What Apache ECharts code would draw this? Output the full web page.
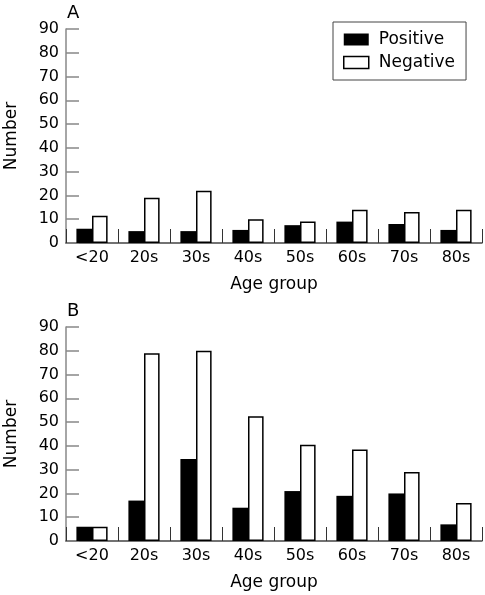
<!DOCTYPE html>
<html>
<head>
<meta charset="utf-8">
<script src="https://cdn.jsdelivr.net/npm/echarts@6/dist/echarts.min.js"></script>
<style>html,body{margin:0;padding:0;background:#fff}#c{width:485px;height:595px}</style>
</head>
<body>
<div id="c"></div>
<script>
var categories = ['<20', '20s', '30s', '40s', '50s', '60s', '70s', '80s'];
var positiveA = [6, 5, 5, 5.5, 7.5, 9, 8, 5.5];
var negativeA = [11.5, 19, 22, 10, 9, 14, 13, 14];
var positiveB = [6, 17, 34.5, 14, 21, 19, 20, 7];
var negativeB = [6, 79, 80, 52.5, 40.5, 38.5, 29, 16];
var yTicks = [0, 10, 20, 30, 40, 50, 60, 70, 80, 90];

var FONT = 'DejaVu Sans';
var chart = echarts.init(document.getElementById('c'));

function xAx(gi) {
  return {
    type: 'category', gridIndex: gi, data: categories, boundaryGap: true,
    name: 'Age group', nameLocation: 'middle', nameGap: 33,
    nameTextStyle: { fontFamily: FONT, fontSize: 17, color: '#000' },
    axisLine: { show: true, lineStyle: { color: '#444', width: 1.5 } },
    axisTick: { show: true, inside: true, alignWithLabel: false, interval: 0, length: 14, lineStyle: { color: '#333', width: 1 } },
    axisLabel: { fontFamily: FONT, fontSize: 16, color: '#000', margin: 7, interval: 0 }
  };
}
function yAx(gi) {
  return {
    type: 'value', gridIndex: gi, min: yTicks[0], max: yTicks[yTicks.length - 1], interval: 10,
    name: 'Number', nameLocation: 'middle', nameGap: 46,
    nameTextStyle: { fontFamily: FONT, fontSize: 17, color: '#000' },
    axisLine: { show: true, lineStyle: { color: '#888', width: 1.5 } },
    axisTick: { show: true, inside: true, length: 13, lineStyle: { color: '#888', width: 1.5 } },
    axisLabel: { fontFamily: FONT, fontSize: 16, color: '#000', margin: 7 },
    splitLine: { show: false }
  };
}
var posStyle = { color: '#000' };
var negStyle = { color: '#fff', borderColor: '#000', borderWidth: 1.5 };

chart.setOption({
  animation: false,
  grid: [
    { left: 66, top: 29, width: 416, height: 214, containLabel: false, outerBoundsMode: 'none' },
    { left: 66, top: 327, width: 416, height: 214, containLabel: false, outerBoundsMode: 'none' }
  ],
  xAxis: [xAx(0), xAx(1)],
  yAxis: [yAx(0), yAx(1)],
  legend: {
    orient: 'vertical', left: 333, top: 22,
    itemWidth: 25, itemHeight: 12, itemGap: 6,
    padding: [9, 11, 9, 10],
    borderColor: '#444', borderWidth: 1,
    icon: 'rect',
    textStyle: { fontFamily: FONT, fontSize: 17, color: '#000', padding: [0, 0, 0, 5] },
    data: [
      { name: 'Positive', itemStyle: posStyle },
      { name: 'Negative', itemStyle: negStyle }
    ]
  },
  graphic: [
    { type: 'text', left: 67, top: 4, style: { text: 'A', font: '18px "DejaVu Sans"', fill: '#000' } },
    { type: 'text', left: 67, top: 302, style: { text: 'B', font: '18px "DejaVu Sans"', fill: '#000' } }
  ],
  series: [
    { name: 'Positive', type: 'bar', xAxisIndex: 0, yAxisIndex: 0, data: positiveA, itemStyle: posStyle, barGap: '0%', barCategoryGap: '40%' },
    { name: 'Negative', type: 'bar', xAxisIndex: 0, yAxisIndex: 0, data: negativeA, itemStyle: negStyle, barGap: '0%', barCategoryGap: '40%' },
    { name: 'Positive', type: 'bar', xAxisIndex: 1, yAxisIndex: 1, data: positiveB, itemStyle: posStyle, barGap: '0%', barCategoryGap: '40%' },
    { name: 'Negative', type: 'bar', xAxisIndex: 1, yAxisIndex: 1, data: negativeB, itemStyle: negStyle, barGap: '0%', barCategoryGap: '40%' }
  ]
});
</script>
</body>
</html>
